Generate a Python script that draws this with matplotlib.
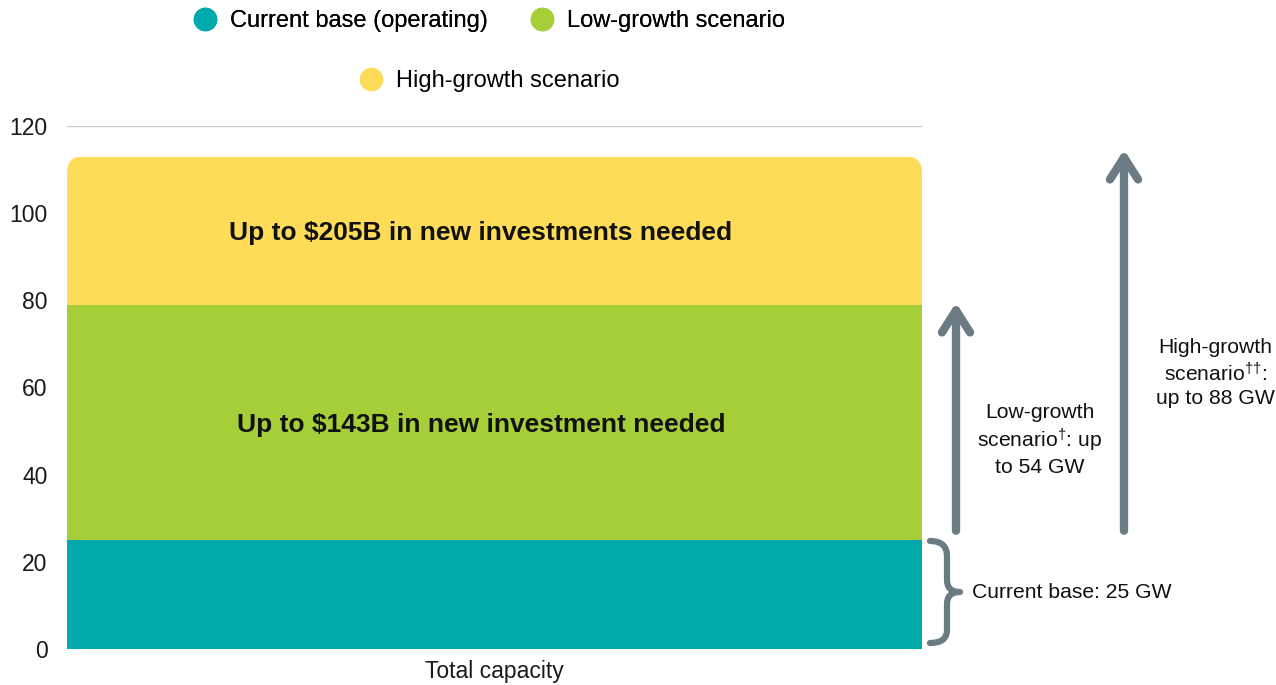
import matplotlib
matplotlib.use("Agg")
import matplotlib.pyplot as plt
from matplotlib.patches import FancyBboxPatch, PathPatch, FancyArrowPatch
from matplotlib.path import Path
from matplotlib.lines import Line2D
import matplotlib.transforms as mtransforms

plt.rcParams['font.family'] = ['Liberation Sans', 'DejaVu Sans']
plt.rcParams['mathtext.fontset'] = 'custom'
plt.rcParams['mathtext.rm'] = 'Liberation Sans'
plt.rcParams['mathtext.it'] = 'Liberation Sans'
plt.rcParams['mathtext.bf'] = 'Liberation Sans:bold'

# ---- data ----
category = ["Total capacity"]
series_names = ["Current base (operating)", "Low-growth scenario", "High-growth scenario"]
segment_values = [25, 54, 34]        # GW, stacked (25 + 54 = 79, + 34 = 113)
low_growth_total = 79
high_growth_total = 113
segment_labels = ["", "Up to $143B in new investment needed", "Up to $205B in new investments needed"]
yticks = [0, 20, 40, 60, 80, 100, 120]

colors = ["#00A9AC", "#A6CE39", "#FFDC57"]
gray = "#6B7B83"

W, H = 1276, 685
fig = plt.figure(figsize=(W / 100, H / 100), dpi=100)
ax = fig.add_axes([67 / W, 1 - 649 / H, (922 - 67) / W, (649 - 126) / H])

bottom = 0
bars = []
for name, v, c in zip(series_names, segment_values, colors):
    b = ax.bar(0, v, bottom=bottom, width=1.0, color=c, zorder=2, linewidth=0)
    bars.append(b)
    bottom += v

ax.set_xlim(-0.5, 0.5)
ax.set_ylim(0, 120)

# rounded top corners for top segment
r_x = 16 / 855
asp = (120 / 523) / (1 / 855)
clip = FancyBboxPatch((-0.5, -50), 1.0, 50 + sum(segment_values),
                      boxstyle=f"round,pad=0,rounding_size={r_x}",
                      mutation_aspect=asp, transform=ax.transData,
                      facecolor='none', edgecolor='none')
for p in bars[2]:
    p.set_clip_path(clip)

# segment labels
bot = 0
for v, lab in zip(segment_values, segment_labels):
    if lab:
        ax.text(-0.016, bot + v / 2 - 0.5, lab.replace("$", r"\$"), ha='center', va='center',
                fontsize=19, fontweight='bold', color='#111111', zorder=3)
    bot += v

ax.set_yticks(yticks)
ax.set_yticklabels([str(t) for t in yticks], fontsize=16.5, color='#1a1a1a')
ax.set_xticks([0])
ax.set_xticklabels(category, fontsize=16.5, color='#1a1a1a')
ax.tick_params(axis='y', length=0, pad=14)
ax.tick_params(axis='x', length=0, pad=8)
for s in ax.spines.values():
    s.set_visible(False)
ax.yaxis.grid(True, color='#CCCCCC', linewidth=1, zorder=0)
ax.set_axisbelow(True)

# arrows (x in figure fraction, y in data)
trans = mtransforms.blended_transform_factory(fig.transFigure, ax.transData)
for xpix, top in [(956, low_growth_total + 1.1), (1124, high_growth_total + 2.2)]:
    arr = FancyArrowPatch((xpix / W, 26.5), (xpix / W, top), transform=trans,
                          arrowstyle="->,head_length=7.2,head_width=4.6",
                          mutation_scale=2.2, color=gray, linewidth=6,
                          capstyle='round', joinstyle='round', clip_on=False)
    fig.add_artist(arr)

# brace
def yd(ypix):
    return (649 - ypix) / (523 / 120)
verts = [(930, 541), (947, 541), (947, 556), (947, 580), (947, 592), (960, 592),
         (947, 592), (947, 604), (947, 630), (947, 643), (930, 643)]
codes = [Path.MOVETO, Path.CURVE3, Path.CURVE3, Path.LINETO, Path.CURVE3, Path.CURVE3,
         Path.CURVE3, Path.CURVE3, Path.LINETO, Path.CURVE3, Path.CURVE3]
vv = [(x / W, yd(y)) for x, y in verts]
brace = PathPatch(Path(vv, codes), transform=trans, facecolor='none', edgecolor=gray,
                  linewidth=4.5, capstyle='round', joinstyle='round', clip_on=False)
fig.add_artist(brace)

fig.text(972 / W, 1 - 593 / H, "Current base: 25 GW", ha='left', va='center',
         fontsize=15.2, color='#111111')
fig.text(1040 / W, 1 - 440 / H, "Low-growth\nscenario$^{†}$: up\nto 54 GW", ha='center',
         va='center', fontsize=15.2, color='#111111', linespacing=1.25)
fig.text(1215 / W, 1 - 373 / H, "High-growth\nscenario$^{††}$:\nup to 88 GW", ha='center',
         va='center', fontsize=15.2, color='#111111', linespacing=1.25)

# legends
def handle(c):
    return Line2D([], [], marker='o', linestyle='none', markersize=16,
                  markerfacecolor=c, markeredgecolor=c)

leg1 = fig.legend([handle(colors[0]), handle(colors[1])], series_names[:2],
                  loc='center', bbox_to_anchor=(489 / W, 1 - 21 / H), ncol=2,
                  frameon=False, fontsize=17, handlelength=1.0, handletextpad=0.55,
                  columnspacing=1.8, borderpad=0, borderaxespad=0)
leg2 = fig.legend([handle(colors[2])], series_names[2:],
                  loc='center', bbox_to_anchor=(489 / W, 1 - 81 / H), ncol=1,
                  frameon=False, fontsize=17, handlelength=1.0, handletextpad=0.55,
                  borderpad=0, borderaxespad=0)
fig.add_artist(leg1)

fig.savefig("out.png", dpi=100)
